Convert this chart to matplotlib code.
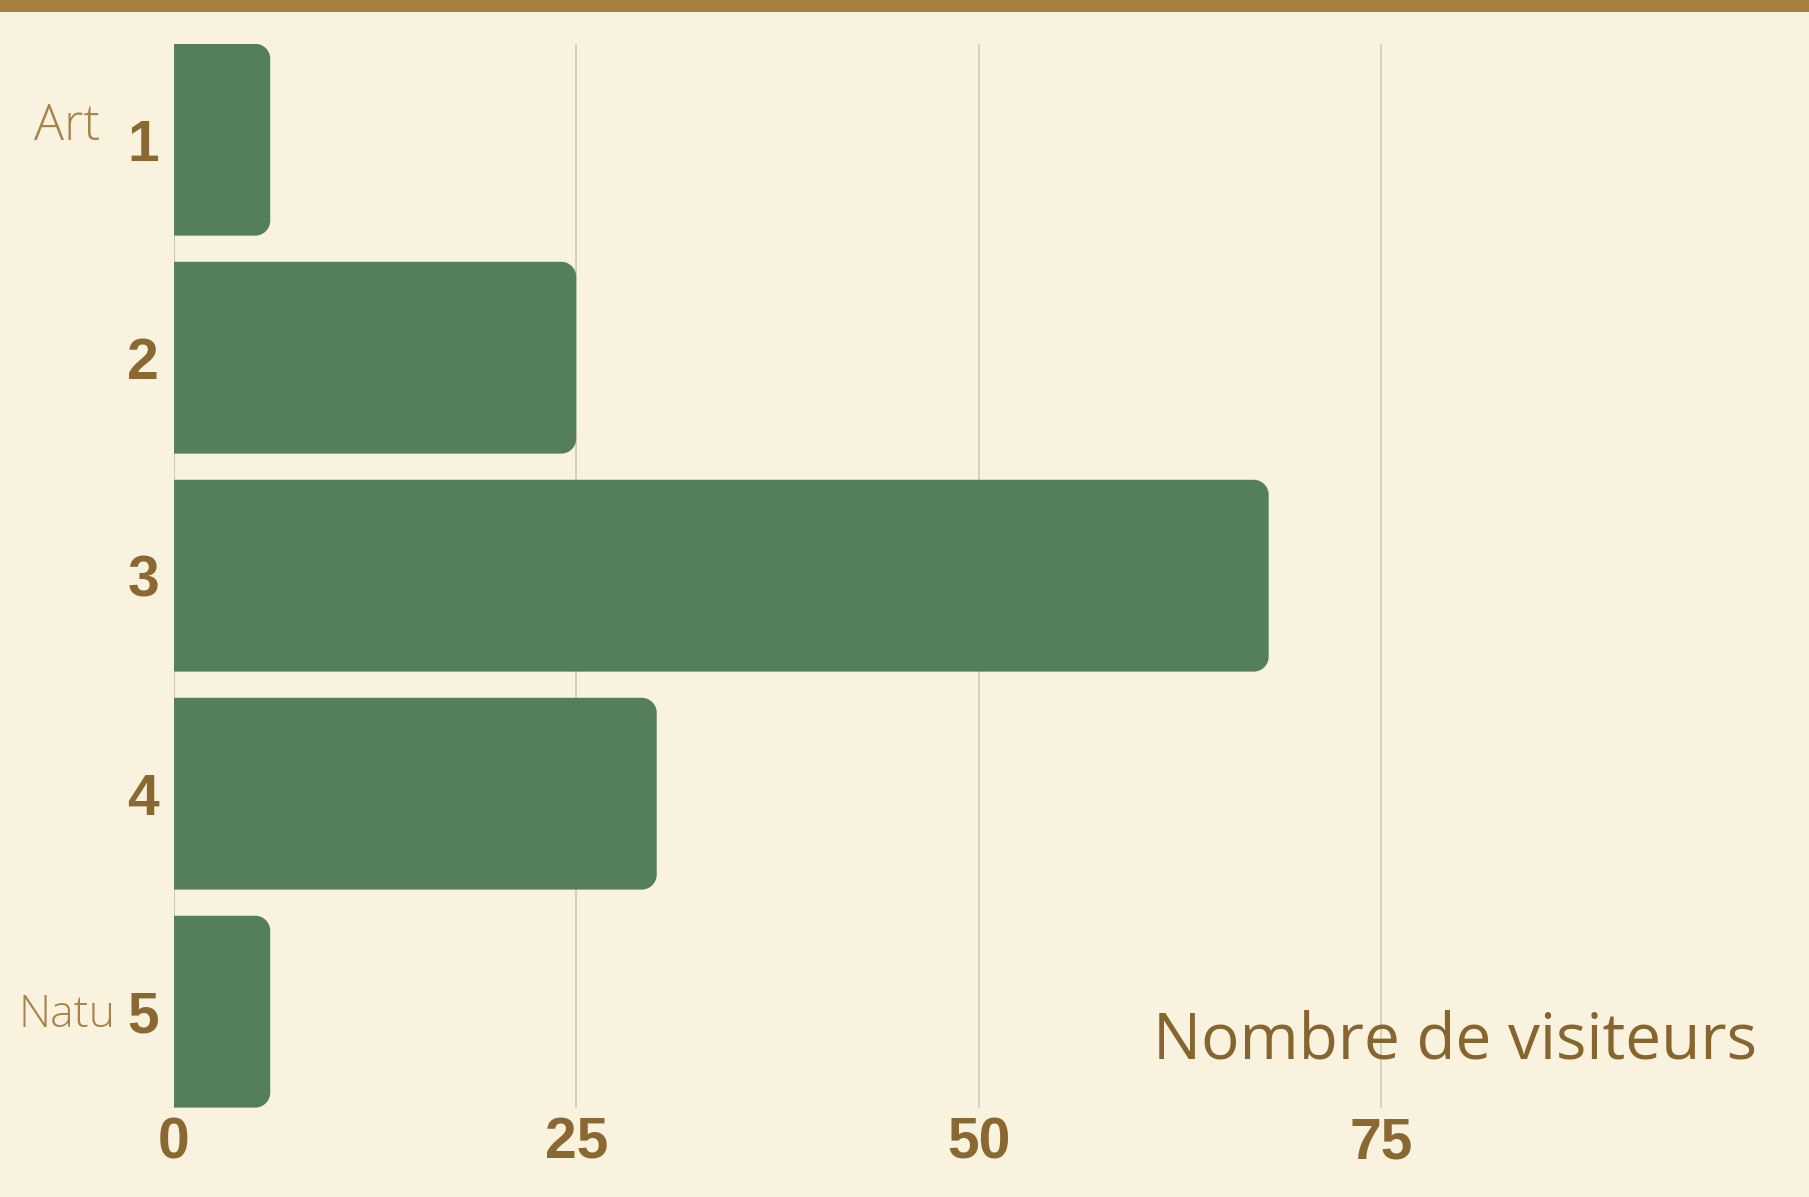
import numpy as np
import matplotlib.pyplot as plt
from matplotlib.path import Path
from matplotlib.patches import PathPatch, Rectangle
from matplotlib.transforms import blended_transform_factory

# data
ranks = [1, 2, 3, 4, 5]
visitors = [6, 25, 68, 30, 6]
x_ticks = [0, 25, 50, 75]
side_labels = {1: "Art", 5: "Natu"}
axis_title = "Nombre de visiteurs"

BG = "#F8F2DE"
BAR = "#537F5B"
TICK = "#8A6832"
LIGHT = "#A88347"
GRID = "#CFC9B5"
STRIPE = "#A58040"

W, H = 1809, 1197
fig = plt.figure(figsize=(W / 100, H / 100), dpi=100, facecolor=BG)
ax = fig.add_axes([173.6 / W, 89.4 / H, (1784 - 173.6) / W, (1107.6 - 43.8) / H])
ax.set_facecolor(BG)

ax.set_xlim(0, 100)
ax.set_ylim(5.44, 0.56)

bars = ax.barh(ranks, visitors, height=0.88, color=BAR, zorder=3)


def rounded_right(x, y, w, h, rx, ry):
    # rectangle with the two right corners rounded
    k = 0.5523
    verts = [
        (x, y), (x + w - rx, y),
        (x + w - rx + k * rx, y), (x + w, y + ry - k * ry), (x + w, y + ry),
        (x + w, y + h - ry),
        (x + w, y + h - ry + k * ry), (x + w - rx + k * rx, y + h), (x + w - rx, y + h),
        (x, y + h), (x, y),
    ]
    codes = [Path.MOVETO, Path.LINETO,
             Path.CURVE4, Path.CURVE4, Path.CURVE4,
             Path.LINETO,
             Path.CURVE4, Path.CURVE4, Path.CURVE4,
             Path.LINETO, Path.CLOSEPOLY]
    return Path(verts, codes)


fig.canvas.draw()
px_x = ax.transData.transform((1, 0))[0] - ax.transData.transform((0, 0))[0]
px_y = abs(ax.transData.transform((0, 1))[1] - ax.transData.transform((0, 0))[1])
r = 15
for rect in bars:
    x, y, w, h = rect.get_x(), rect.get_y(), rect.get_width(), rect.get_height()
    p = rounded_right(x, y, w, h, r / px_x, r / px_y)
    ax.add_patch(PathPatch(p, facecolor=BAR, edgecolor="none", zorder=3))
    rect.remove()

ax.set_xticks(x_ticks)
ax.set_yticks(ranks)
ax.grid(axis="x", color=GRID, linewidth=1.2, zorder=0)
ax.axvline(0, color=GRID, linewidth=1.5, zorder=1)
for s in ax.spines.values():
    s.set_visible(False)
ax.tick_params(length=0, colors=TICK)
ax.tick_params(axis="x", pad=6.5)
ax.tick_params(axis="y", pad=10.5)
for lab in ax.get_xticklabels() + ax.get_yticklabels():
    lab.set_fontfamily("Liberation Sans")
    lab.set_fontweight("bold")
    lab.set_fontsize(41)
    lab.set_color(TICK)

tr = blended_transform_factory(fig.transFigure, ax.transData)
ax.text(67 / W, 0.94, side_labels[1], transform=tr, ha="center", va="center",
        fontfamily="Open Sans", fontweight="light", fontsize=36, color=LIGHT)
ax.text(67 / W, 5.02, side_labels[5], transform=tr, ha="center", va="center",
        fontfamily="Open Sans", fontweight="light", fontsize=32, color=LIGHT)

ax.text(0.983, 0.0457, axis_title, transform=ax.transAxes, ha="right", va="baseline",
        fontfamily="Open Sans", fontsize=46, color="#86652F", zorder=4)

fig.patches.append(Rectangle((0, 1 - 12 / H), 1, 12 / H, transform=fig.transFigure,
                             facecolor=STRIPE, edgecolor="none"))

fig.savefig("out.png", dpi=100, facecolor=BG)
